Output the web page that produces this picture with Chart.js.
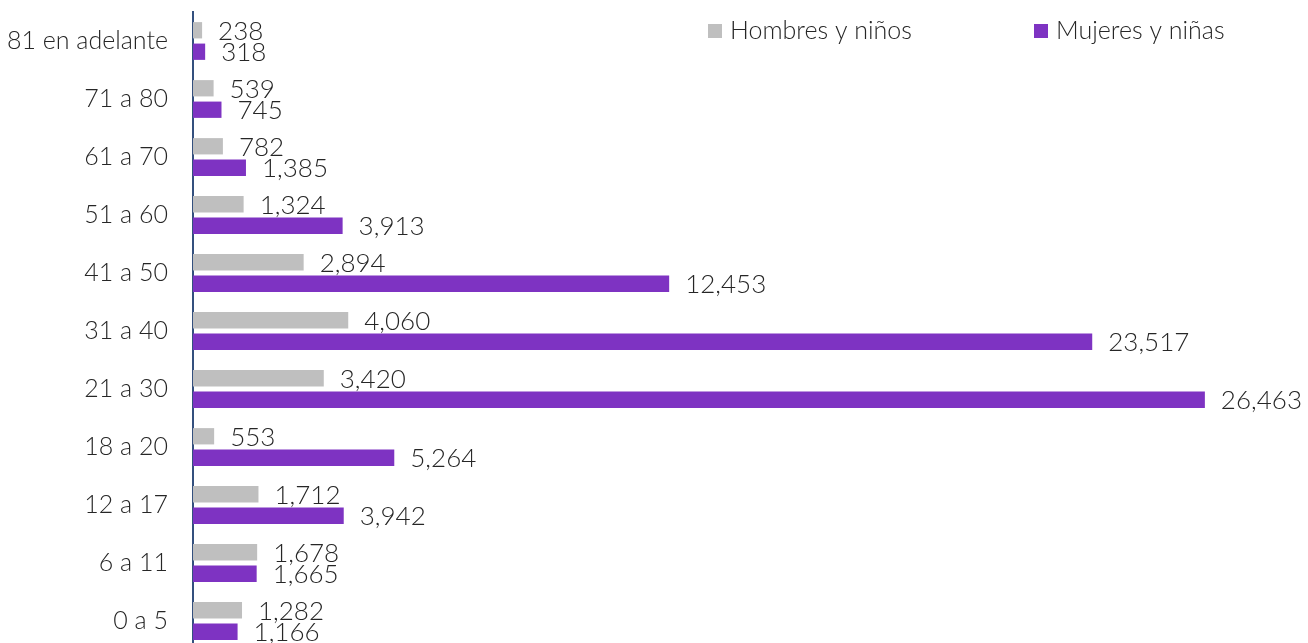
<!DOCTYPE html>
<html>
<head>
<meta charset="utf-8">
<script src="https://cdn.jsdelivr.net/npm/chart.js@4"></script>
<style>
  body { margin: 0; overflow: hidden; background: #fff; }
  #ageChart { position: absolute; left: 0; top: 0; }
</style>
</head>
<body>
<canvas id="ageChart" width="1308" height="662"></canvas>
<script>
// Age groups, top to bottom
const ageGroups = ['81 en adelante', '71 a 80', '61 a 70', '51 a 60', '41 a 50', '31 a 40', '21 a 30', '18 a 20', '12 a 17', '6 a 11', '0 a 5'];
const seriesNames = ['Hombres y niños', 'Mujeres y niñas'];
const hombres = [238, 539, 782, 1324, 2894, 4060, 3420, 553, 1712, 1678, 1282];
const mujeres = [318, 745, 1385, 3913, 12453, 23517, 26463, 5264, 3942, 1665, 1166];

const grey = '#bfbfbf';
const purple = '#7e33c2';
const textColor = '#262626';
const fontFamily = 'Lato, "Open Sans", sans-serif';

// value labels at the end of each bar
const barLabels = {
    id: 'barLabels',
    afterDatasetsDraw(chart) {
        const ctx = chart.ctx;
        ctx.save();
        ctx.font = '300 26px ' + fontFamily;
        ctx.fillStyle = textColor;
        ctx.textBaseline = 'middle';
        ctx.textAlign = 'left';
        chart.data.datasets.forEach((ds, i) => {
            chart.getDatasetMeta(i).data.forEach((bar, j) => {
                ctx.fillText(ds.data[j].toLocaleString('en-US'), bar.x + 16, bar.y + 1);
            });
        });
        ctx.restore();
    }
};

// legend drawn over the top right corner
const cornerLegend = {
    id: 'cornerLegend',
    afterDraw(chart) {
        const ctx = chart.ctx;
        const items = [
            { x: 708, color: grey, text: seriesNames[0] },
            { x: 1034, color: purple, text: seriesNames[1] }
        ];
        ctx.save();
        ctx.font = '300 25px ' + fontFamily;
        ctx.textBaseline = 'middle';
        items.forEach(it => {
            ctx.fillStyle = it.color;
            ctx.fillRect(it.x, 24, 14, 14);
            ctx.fillStyle = textColor;
            ctx.fillText(it.text, it.x + 22, 31);
        });
        ctx.restore();
    }
};

new Chart(document.getElementById('ageChart').getContext('2d'), {
    type: 'bar',
    data: {
        labels: ageGroups,
        datasets: [
            { label: seriesNames[0], data: hombres, backgroundColor: grey },
            { label: seriesNames[1], data: mujeres, backgroundColor: purple }
        ]
    },
    options: {
        indexAxis: 'y',
        responsive: false,
        animation: false,
        categoryPercentage: 0.74,
        barPercentage: 0.76,
        layout: { padding: { top: 12, bottom: 12, left: 0, right: 0 } },
        plugins: {
            legend: { display: false },
            tooltip: { enabled: false }
        },
        scales: {
            x: {
                display: false,
                min: 0,
                max: 29160
            },
            y: {
                grid: { display: false, drawTicks: false },
                border: { display: true, color: '#34507e', width: 2 },
                ticks: {
                    color: textColor,
                    padding: 25,
                    font: { family: fontFamily, size: 25, weight: 300 }
                },
                afterFit(scale) {
                    scale.width = 193;
                    // the tick padding should not push the plot down
                    scale.paddingTop = 0;
                    scale.paddingBottom = 0;
                }
            }
        }
    },
    plugins: [barLabels, cornerLegend]
});
</script>
</body>
</html>
